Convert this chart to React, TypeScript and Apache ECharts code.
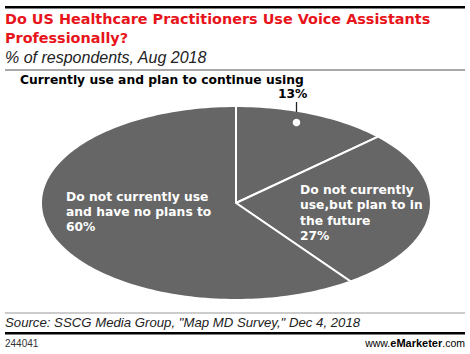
import React, { useEffect, useRef } from "react";
import * as echarts from "echarts";

const categories = [
  "Currently use and plan to continue using",
  "Do not currently use,but plan to in the future",
  "Do not currently use and have no plans to",
];
const values = [13, 27, 60];
const titleText = "Do US Healthcare Practitioners Use Voice Assistants\nProfessionally?";
const subtitleText = "% of respondents, Aug 2018";
const sourceText = 'Source: SSCG Media Group, "Map MD Survey," Dec 4, 2018';
const chartId = "244041";

const FONT = "'Liberation Sans', Arial, sans-serif";
const BOLD = "'DejaVu Sans', Verdana, sans-serif";

export default function App() {
  const ref = useRef<HTMLDivElement>(null);
  useEffect(() => {
    const chart = echarts.init(ref.current!, null, { renderer: "svg" });
    const total = values.reduce((a, b) => a + b, 0);
    const starts: number[] = [];
    let acc = 0;
    values.forEach((v) => {
      starts.push(acc);
      acc += v;
    });
    const CX = 236, CY = 203, RX = 195, RY = 97;

    chart.setOption({
      animation: false,
      title: [
        {
          text: titleText,
          left: 5,
          top: 9,
          padding: 0,
          textStyle: { fontFamily: BOLD, fontSize: 14.4, fontWeight: "bold", color: "#e8141b", lineHeight: 19 },
        },
        {
          text: subtitleText,
          left: 5,
          top: 48,
          padding: 0,
          textStyle: { fontFamily: FONT, fontSize: 16, fontStyle: "italic", fontWeight: "normal", color: "#222", lineHeight: 18 },
        },
      ],
      series: [
        {
          type: "custom",
          coordinateSystem: "none",
          data: values.map((v, i) => ({ value: v, name: categories[i] })),
          renderItem: (params: any) => {
            const i = params.dataIndex;
            const t0 = (starts[i] / total) * 2 * Math.PI;
            const t1 = ((starts[i] + values[i]) / total) * 2 * Math.PI;
            const n = Math.max(6, Math.ceil(((t1 - t0) / (2 * Math.PI)) * 240));
            const pts: number[][] = [[CX, CY]];
            for (let k = 0; k <= n; k++) {
              const t = t0 + ((t1 - t0) * k) / n;
              pts.push([CX + RX * Math.sin(t), CY - RY * Math.cos(t)]);
            }
            return {
              type: "polygon",
              shape: { points: pts },
              style: { fill: "#666666", stroke: "#ffffff", lineWidth: 2, lineJoin: "miter" },
            };
          },
        },
      ],
      graphic: [
        { type: "rect", shape: { x: 5, y: 6, width: 460, height: 2.5 }, style: { fill: "#000" } },
        { type: "rect", shape: { x: 5, y: 69.5, width: 460, height: 1 }, style: { fill: "#555" } },
        {
          type: "text",
          left: 20,
          top: 74,
          style: { text: categories[0], font: `bold 12.3px ${BOLD}`, fill: "#000" },
        },
        {
          type: "text",
          left: 278,
          top: 88,
          style: { text: values[0] + "%", font: `bold 12.3px ${BOLD}`, fill: "#000" },
        },
        { type: "line", z: 10, shape: { x1: 296.5, y1: 102, x2: 296.5, y2: 112 }, style: { stroke: "#222", lineWidth: 1.3 } },
        { type: "circle", z: 10, shape: { cx: 296.5, cy: 122.5, r: 3.8 }, style: { fill: "#fff" } },
        {
          type: "text",
          z: 10,
          left: 66,
          top: 189,
          style: {
            text: "Do not currently use\nand have no plans to\n" + values[2] + "%",
            font: `bold 12.3px ${BOLD}`,
            lineHeight: 15,
            fill: "#fff",
          },
        },
        {
          type: "text",
          z: 10,
          left: 300,
          top: 182,
          style: {
            text: "Do not currently\nuse,but plan to in\nthe future\n" + values[1] + "%",
            font: `bold 12.3px ${BOLD}`,
            lineHeight: 15.5,
            fill: "#fff",
          },
        },
        { type: "rect", shape: { x: 5, y: 312.5, width: 460, height: 1 }, style: { fill: "#999" } },
        {
          type: "text",
          left: 5,
          top: 316,
          style: { text: sourceText, font: `italic 13.2px ${FONT}`, fill: "#222" },
        },
        { type: "rect", shape: { x: 5, y: 332, width: 460, height: 2.5 }, style: { fill: "#000" } },
        {
          type: "text",
          left: 5,
          top: 338,
          style: { text: chartId, font: `10px ${FONT}`, fill: "#333" },
        },
        {
          type: "text",
          right: 5,
          top: 337,
          style: {
            text: "{a|www.}{b|e}{c|Marketer}{a|.com}",
            rich: {
              a: { fontFamily: FONT, fontSize: 10.5, color: "#333" },
              b: { fontFamily: FONT, fontSize: 11, fontWeight: "bold", color: "#e8141b" },
              c: { fontFamily: FONT, fontSize: 11, fontWeight: "bold", color: "#000" },
            },
          },
        },
      ],
    });
    return () => chart.dispose();
  }, []);
  return <div ref={ref} style={{ position: "absolute", left: 0, top: 0, width: 470, height: 354 }} />;
}
